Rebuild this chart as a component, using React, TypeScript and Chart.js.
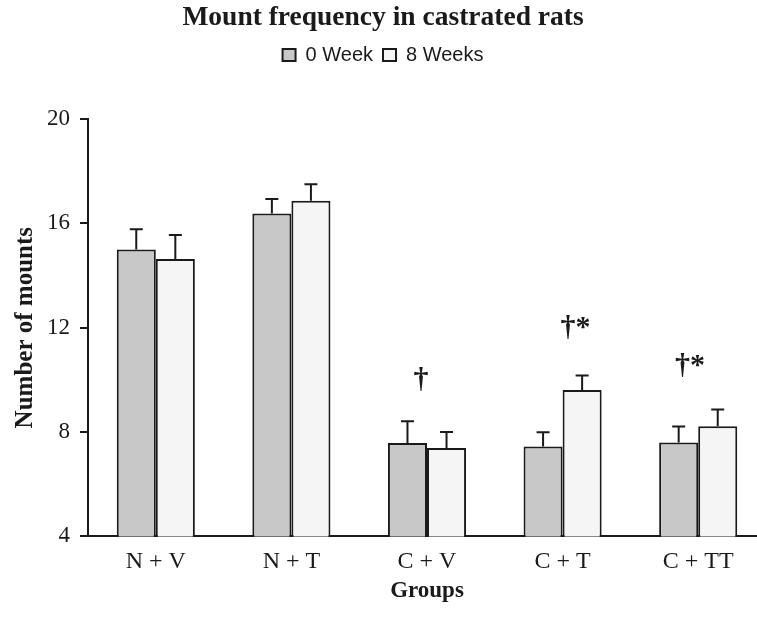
import React, { useEffect, useRef } from 'react';
import { Chart, registerables } from 'chart.js';

Chart.register(...registerables);

const groups = ['N + V', 'N + T', 'C + V', 'C + T', 'C + TT'];
const seriesNames = ['0 Week', '8 Weeks'];
const week0 = [15.0, 16.38, 7.58, 7.45, 7.6];
const week0Err = [0.77, 0.55, 0.83, 0.54, 0.61];
const week8 = [14.63, 16.87, 7.39, 9.61, 8.22];
const week8Err = [0.92, 0.63, 0.61, 0.56, 0.64];
const yTicks = [4, 8, 12, 16, 20];
const markText = ['†', '†*', '†*'];
const markX = [1.956, 3.096, 3.94];
const markY = [9.99, 11.98, 10.52];

const SERIF = '"Liberation Serif", "Times New Roman", serif';
const SANS = '"Liberation Sans", Arial, sans-serif';
const INK = '#1a1a1a';

const errorBars = {
  id: 'errorBars',
  afterDatasetsDraw(chart: any) {
    const { ctx, scales } = chart;
    const y = scales.y;
    const errs = [week0Err, week8Err];
    const vals = [week0, week8];
    chart.data.datasets.forEach((_ds: any, i: number) => {
      const meta = chart.getDatasetMeta(i);
      meta.data.forEach((bar: any, j: number) => {
        const v = vals[i][j];
        const e = errs[i][j];
        const yTop = y.getPixelForValue(v);
        const yCap = y.getPixelForValue(v + e);
        ctx.save();
        ctx.strokeStyle = INK;
        ctx.lineWidth = 2;
        ctx.beginPath();
        ctx.moveTo(bar.x, yTop);
        ctx.lineTo(bar.x, yCap);
        ctx.moveTo(bar.x - 6.5, yCap);
        ctx.lineTo(bar.x + 6.5, yCap);
        ctx.stroke();
        ctx.restore();
      });
    });
  },
};

const marks = {
  id: 'marks',
  afterDatasetsDraw(chart: any) {
    const { ctx, scales } = chart;
    ctx.save();
    ctx.fillStyle = INK;
    ctx.font = `bold 30px ${SERIF}`;
    ctx.textAlign = 'center';
    ctx.textBaseline = 'middle';
    markText.forEach((t, k) => {
      ctx.fillText(t, scales.x.getPixelForValue(markX[k]), scales.y.getPixelForValue(markY[k]));
    });
    ctx.restore();
  },
};

const legendSpacer = {
  id: 'legendSpacer',
  beforeInit(chart: any) {
    const lg = chart.legend;
    if (!lg) return;
    const origFit = lg.fit;
    lg.fit = function () {
      origFit.call(this);
      this.height += 44;
    };
  },
};

export default function App() {
  const ref = useRef<HTMLCanvasElement>(null);
  useEffect(() => {
    if (!ref.current) return;
    const chart = new Chart(ref.current, {
      type: 'bar',
      data: {
        labels: groups,
        datasets: [
          {
            label: seriesNames[0],
            data: week0,
            backgroundColor: '#c8c8c8',
            borderColor: INK,
            borderWidth: 2,
            borderSkipped: false,
          },
          {
            label: seriesNames[1],
            data: week8,
            backgroundColor: '#f5f5f5',
            borderColor: INK,
            borderWidth: 2,
            borderSkipped: false,
          },
        ],
      },
      options: {
        responsive: false,
        animation: false,
        layout: { padding: { left: 0, right: 14, top: 0, bottom: 8 } },
        datasets: {
          bar: { categoryPercentage: 0.576, barPercentage: 1.0 },
        },
        plugins: {
          title: {
            display: true,
            text: 'Mount frequency in castrated rats',
            color: INK,
            font: { family: SERIF, size: 27.5, weight: 'bold' },
            padding: { top: 1, bottom: 1 },
          },
          legend: {
            display: true,
            labels: {
              color: INK,
              font: { family: SANS, size: 20 },
              boxWidth: 13,
              boxHeight: 12,
              padding: 10,
            },
          },
          tooltip: { enabled: false },
        },
        scales: {
          x: {
            type: 'category',
            offset: true,
            grid: { display: false, drawTicks: false },
            border: { display: true, color: INK, width: 2 },
            ticks: {
              color: INK,
              font: { family: SERIF, size: 24 },
              padding: 10.6,
            },
            title: {
              display: true,
              text: 'Groups',
              color: INK,
              font: { family: SERIF, size: 23, weight: 'bold' },
              padding: { top: -9, bottom: 4 },
            },
          },
          y: {
            min: 4,
            max: 20,
            afterBuildTicks: (s: any) => {
              s.ticks = yTicks.map((v) => ({ value: v }));
            },
            grid: {
              display: true,
              drawOnChartArea: false,
              drawTicks: true,
              tickLength: 8,
              color: INK,
              lineWidth: 2,
            },
            border: { display: true, color: INK, width: 2 },
            ticks: {
              color: INK,
              font: { family: SERIF, size: 23 },
              padding: 10,
            },
            title: {
              display: true,
              text: 'Number of mounts',
              color: INK,
              font: { family: SERIF, size: 25, weight: 'bold' },
              padding: { top: 11, bottom: -4 },
            },
          },
        },
      },
      plugins: [errorBars, marks, legendSpacer],
    });
    return () => chart.destroy();
  }, []);
  return (
    <div style={{ position: 'fixed', left: 0, top: 0, width: 757, height: 617, overflow: 'hidden', background: '#fff' }}>
      <canvas ref={ref} width={780} height={617} />
    </div>
  );
}
